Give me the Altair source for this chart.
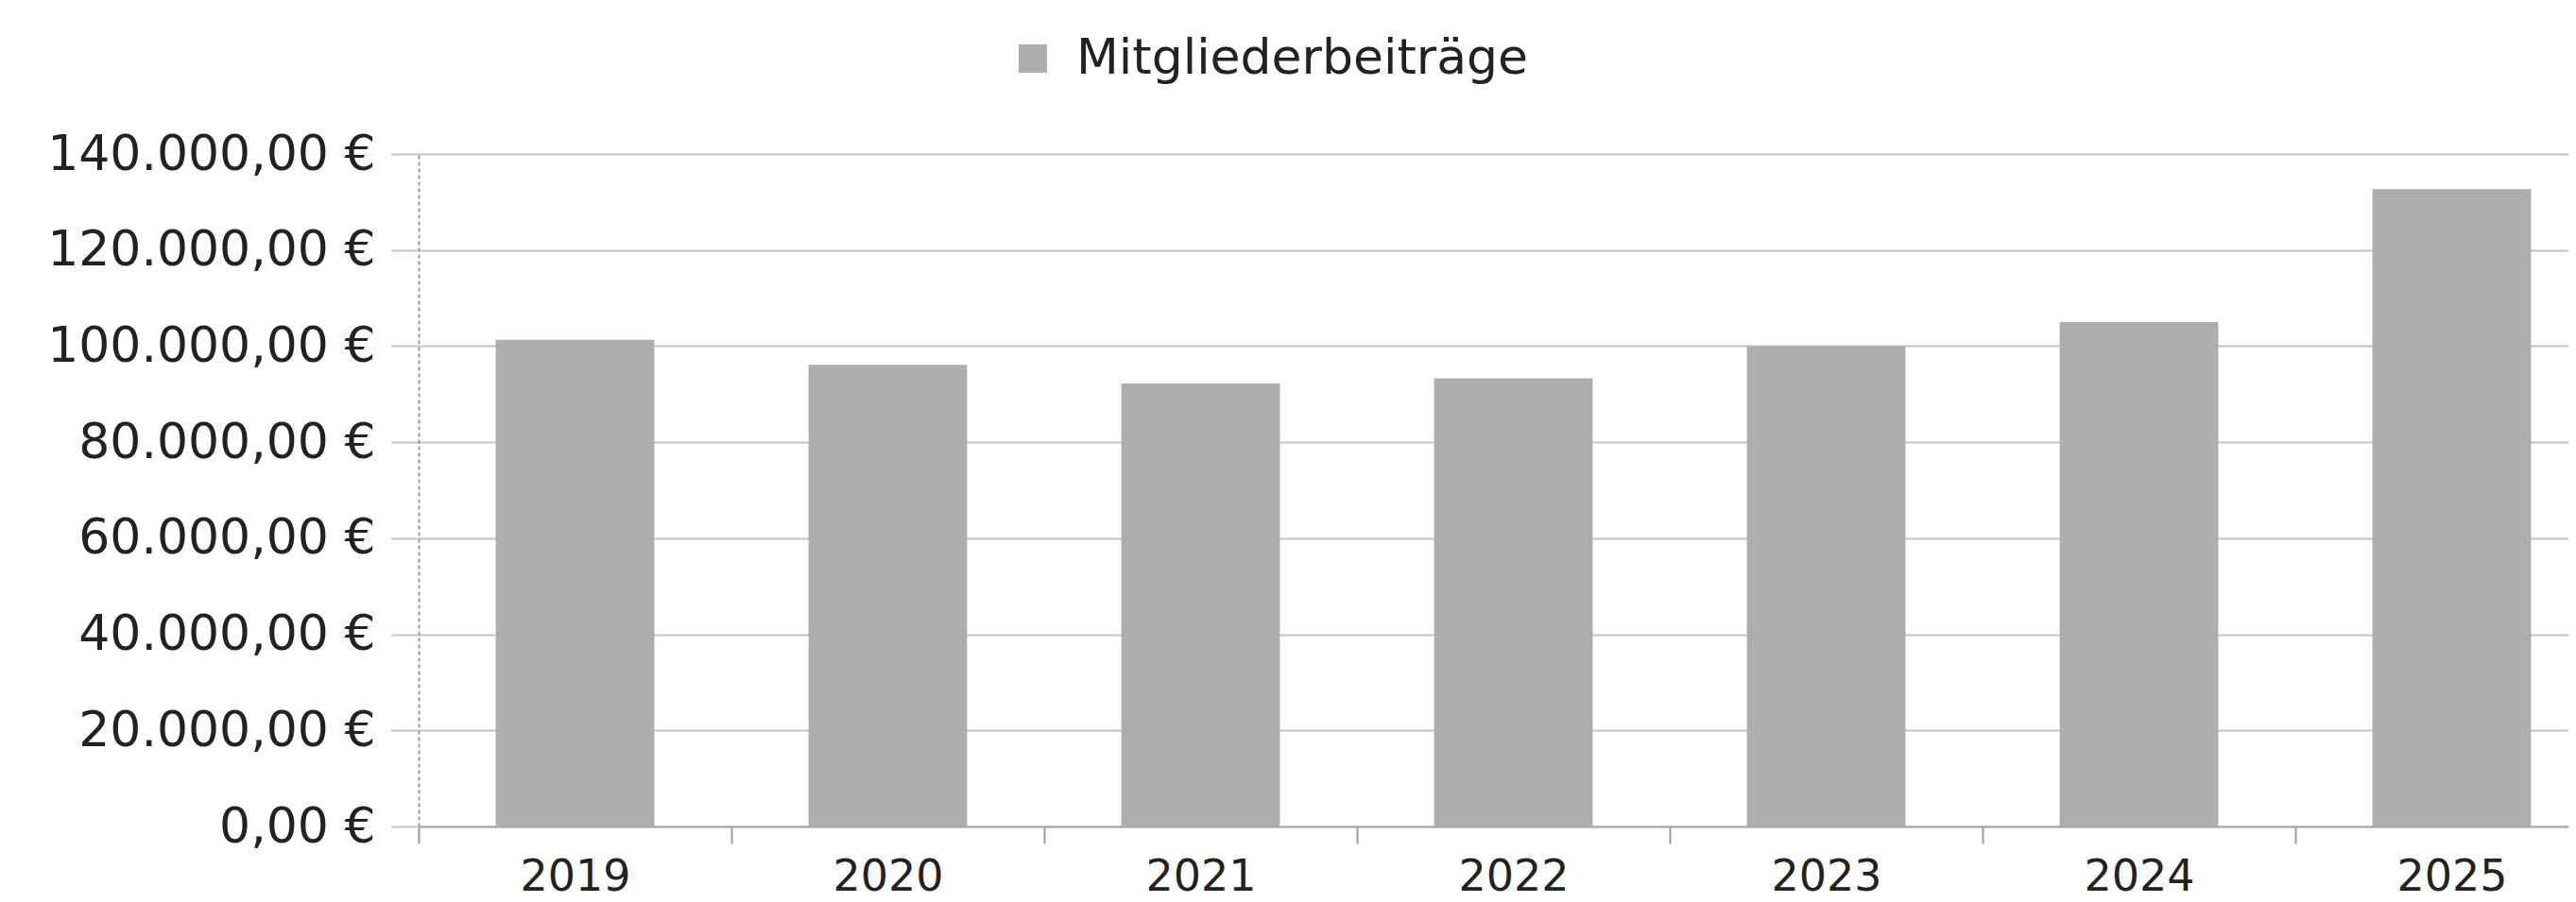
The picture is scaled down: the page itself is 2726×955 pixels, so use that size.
import altair as alt
import pandas as pd

years = ["2019", "2020", "2021", "2022", "2023", "2024", "2025"]
values = [101300, 96100, 92200, 93300, 100000, 105000, 132700]
series_name = "Mitgliederbeiträge"
y_ticks = [0, 20000, 40000, 60000, 80000, 100000, 120000, 140000]

df = pd.DataFrame({"year": years, "value": values, "series": [series_name] * len(years)})

FONT = "DejaVu Sans"
TEXT = "#222222"

label_expr = ("replace(replace(replace(format(datum.value, ',.2f'), ',', '#'), '.', ','), '#', '.') + ' €'")

chart = (
    alt.Chart(df)
    .mark_bar(width=alt.RelativeBandSize(0.507))
    .encode(
        x=alt.X(
            "year:N",
            sort=years,
            scale=alt.Scale(range=[0, 2317], paddingInner=0, paddingOuter=0),
            axis=alt.Axis(
                title=None,
                labelAngle=0,
                labelFont=FONT,
                labelFontSize=46,
                labelColor=TEXT,
                labelPadding=13,
                labelLimit=0,
                tickBand="extent",
                ticks=True,
                tickSize=18,
                tickColor="#9a9a9a",
                tickWidth=2,
                domainColor="#a8a8a8",
                domainWidth=2,
                grid=False,
            ),
        ),
        y=alt.Y(
            "value:Q",
            scale=alt.Scale(domain=[0, 140000], nice=False, zero=True),
            axis=alt.Axis(
                title=None,
                values=y_ticks,
                labelExpr=label_expr,
                labelFont=FONT,
                labelFontSize=52,
                labelColor=TEXT,
                labelPadding=17,
                labelLimit=0,
                tickSize=29,
                tickColor="#c4c4c4",
                tickWidth=2,
                grid=True,
                gridColor="#c4c4c4",
                gridWidth=2,
                domain=True,
                domainColor="#9a9a9a",
                domainWidth=2,
                domainDash=[4, 3],
            ),
        ),
        color=alt.Color(
            "series:N",
            scale=alt.Scale(range=["#adadad"]),
            legend=alt.Legend(
                title=None,
                orient="none",
                legendX=624,
                legendY=-127,
                padding=0,
                symbolType="square",
                symbolSize=900,
                symbolStrokeWidth=0,
                labelFont=FONT,
                labelFontSize=52,
                labelColor=TEXT,
                labelOffset=20,
                labelLimit=0,
            ),
        ),
    )
    .properties(
        width=2275,
        height=712,
        autosize=alt.AutoSizeParams(type="none"),
        padding={"left": 435, "top": 155, "right": 0, "bottom": 80},
        background="white",
    )
    .configure_view(stroke=None)
)

chart.save("out.html", embed_options={"renderer": "svg", "actions": False})
